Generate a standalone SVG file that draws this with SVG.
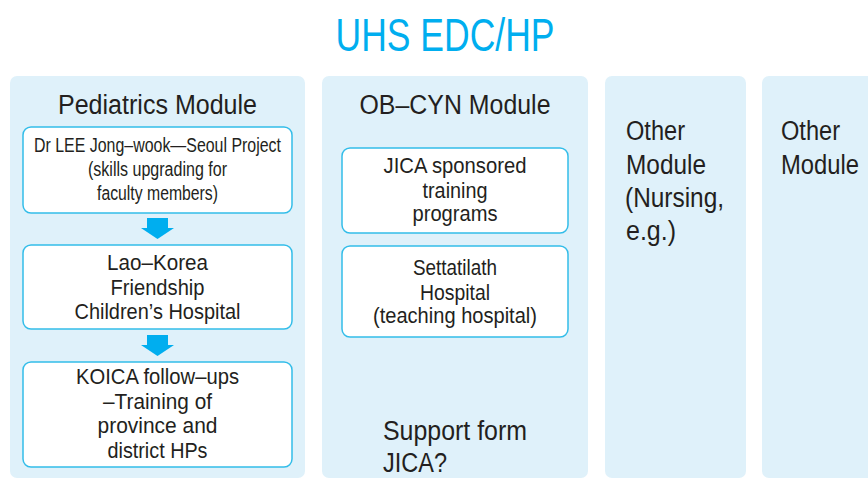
<svg xmlns="http://www.w3.org/2000/svg" width="868" height="478" viewBox="0 0 868 478">
<style>
.panel{fill:#dff1fa}
.box{fill:#ffffff;stroke:#33bde9;stroke-width:1.5}
.t{font-family:"Liberation Sans",Arial,sans-serif;fill:#231f20}
.c{text-anchor:middle}
.f22{font-size:22.5px}
.f27{font-size:27px}
.arrow{fill:#00aeef}
</style>
<rect width="868" height="478" fill="#ffffff"/>
<text class="c" x="445" y="51" font-family="Liberation Sans, Arial, sans-serif" font-size="46" fill="#00aeef" textLength="219" lengthAdjust="spacingAndGlyphs">UHS EDC/HP</text>

<g id="pediatrics-panel">
<rect class="panel" x="10" y="76" width="295" height="402" rx="7"/>
<text class="t c f27" x="157.5" y="114" textLength="199" lengthAdjust="spacingAndGlyphs">Pediatrics Module</text>
</g>
<g id="obcyn-panel">
<rect class="panel" x="322" y="76" width="266" height="402" rx="7"/>
<text class="t c f27" x="455" y="114" textLength="191" lengthAdjust="spacingAndGlyphs">OB–CYN Module</text>
<text class="t f27" x="383" y="440" textLength="144" lengthAdjust="spacingAndGlyphs">Support form</text>
<text class="t f27" x="383" y="472" textLength="64" lengthAdjust="spacingAndGlyphs">JICA?</text>
</g>
<g id="other-panel-1">
<rect class="panel" x="605" y="76" width="141" height="402" rx="7"/>
<text class="t f27" x="626" y="140" textLength="59" lengthAdjust="spacingAndGlyphs">Other</text>
<text class="t f27" x="626" y="174" textLength="80" lengthAdjust="spacingAndGlyphs">Module</text>
<text class="t f27" x="625" y="207" textLength="99" lengthAdjust="spacingAndGlyphs">(Nursing,</text>
<text class="t f27" x="626" y="240" textLength="50" lengthAdjust="spacingAndGlyphs">e.g.)</text>
</g>
<g id="other-panel-2">
<rect class="panel" x="762" y="76" width="120" height="402" rx="7"/>
<text class="t f27" x="781" y="140" textLength="59" lengthAdjust="spacingAndGlyphs">Other</text>
<text class="t f27" x="781" y="174" textLength="78" lengthAdjust="spacingAndGlyphs">Module</text>
</g>

<g id="node-seoul-project">
<rect class="box" x="23" y="127" width="269" height="86" rx="8"/>
<text class="t c" font-size="20" x="157.5" y="152" textLength="247" lengthAdjust="spacingAndGlyphs">Dr LEE Jong–wook—Seoul Project</text>
<text class="t c" font-size="20" x="157.5" y="176" textLength="139" lengthAdjust="spacingAndGlyphs">(skills upgrading for</text>
<text class="t c" font-size="20" x="157.5" y="200" textLength="121" lengthAdjust="spacingAndGlyphs">faculty members)</text>
</g>
<g id="node-children-hospital">
<rect class="box" x="23" y="245" width="269" height="84" rx="8"/>
<text class="t c f22" x="157.5" y="270" textLength="101" lengthAdjust="spacingAndGlyphs">Lao–Korea</text>
<text class="t c f22" x="157.5" y="295" textLength="94" lengthAdjust="spacingAndGlyphs">Friendship</text>
<text class="t c f22" x="157.5" y="319" textLength="166" lengthAdjust="spacingAndGlyphs">Children’s Hospital</text>
</g>
<g id="node-koica">
<rect class="box" x="23" y="362" width="269" height="105" rx="8"/>
<text class="t c f22" x="157.5" y="384" textLength="163" lengthAdjust="spacingAndGlyphs">KOICA follow–ups</text>
<text class="t c f22" x="157.5" y="409" textLength="109" lengthAdjust="spacingAndGlyphs">–Training of</text>
<text class="t c f22" x="157.5" y="433" textLength="120" lengthAdjust="spacingAndGlyphs">province and</text>
<text class="t c f22" x="157.5" y="458" textLength="100" lengthAdjust="spacingAndGlyphs">district HPs</text>
</g>
<g id="node-jica">
<rect class="box" x="342" y="148" width="226" height="85" rx="8"/>
<text class="t c f22" x="455" y="173" textLength="143" lengthAdjust="spacingAndGlyphs">JICA sponsored</text>
<text class="t c f22" x="455" y="198" textLength="65" lengthAdjust="spacingAndGlyphs">training</text>
<text class="t c f22" x="455" y="221" textLength="85" lengthAdjust="spacingAndGlyphs">programs</text>
</g>
<g id="node-settatilath">
<rect class="box" x="342" y="246" width="226" height="91" rx="8"/>
<text class="t c f22" x="455" y="275" textLength="84" lengthAdjust="spacingAndGlyphs">Settatilath</text>
<text class="t c f22" x="455" y="300" textLength="70" lengthAdjust="spacingAndGlyphs">Hospital</text>
<text class="t c f22" x="455" y="323" textLength="164" lengthAdjust="spacingAndGlyphs">(teaching hospital)</text>
</g>

<g id="connectors">
<polygon class="arrow" points="147,218 168,218 168,228 174,228 157.5,239 141,228 147,228"/>
<polygon class="arrow" points="147,335 168,335 168,345 174,345 157.5,356 141,345 147,345"/>
</g>
</svg>
